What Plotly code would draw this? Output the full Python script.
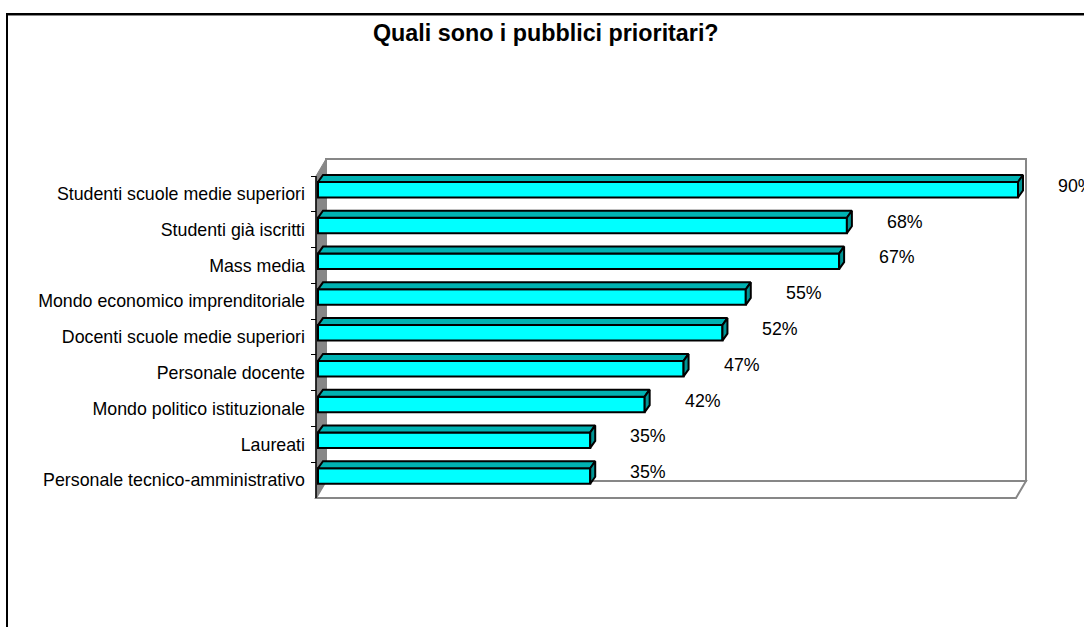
import plotly.graph_objects as go

# ---- data ----
categories = [
    "Studenti scuole medie superiori",
    "Studenti già iscritti",
    "Mass media",
    "Mondo economico imprenditoriale",
    "Docenti scuole medie superiori",
    "Personale docente",
    "Mondo politico istituzionale",
    "Laureati",
    "Personale tecnico-amministrativo",
]
values = [90, 68, 67, 55, 52, 47, 42, 35, 35]
value_labels = [f"{v}%" for v in values]
title_text = "Quali sono i pubblici prioritari?"

# ---- canvas / scale set-up ----
W, H = 1084, 627
AXIS_MAX = 90
FONT = "Arial, Liberation Sans, sans-serif"

# value axis: 0 at x=318 px, AXIS_MAX at x=1018 px (plot area = whole canvas)
X0_PX, XEND_PX = 318, 1018
KX = (XEND_PX - X0_PX) / AXIS_MAX
x_range = [-X0_PX / KX, (W - X0_PX) / KX]

# category axis: bands stacked from y=176 px to y=498 px, index 0 on top
BAND_TOP_PX, BAND_BOT_PX = 176, 498
KY = (BAND_BOT_PX - BAND_TOP_PX) / len(categories)
C0_PX = BAND_TOP_PX + KY / 2
y_range = [(H - C0_PX) / KY, -C0_PX / KY]


def px(p):
    return p / W


def py(p):
    return 1 - p / H


# 3-D bar geometry (in data units)
FACE_TOP = (182 - C0_PX) / KY   # front face top relative to band centre
FACE_H = 15.5 / KY
DEPTH_DX = 5 / KX
DEPTH_DY = 7 / KY

fig = go.Figure()

# front faces of the bars
fig.add_trace(go.Bar(
    y=categories, x=values, orientation="h",
    offset=FACE_TOP, width=FACE_H,
    marker=dict(color="#00FFFF", line=dict(color="black", width=2)),
    hoverinfo="skip", showlegend=False,
))

# top and side faces, built from the same values
top_x, top_y, side_x, side_y = [], [], [], []
for i, v in enumerate(values):
    yf = i + FACE_TOP
    yb = yf - DEPTH_DY
    top_x += [0, DEPTH_DX, v + DEPTH_DX, v, 0, None]
    top_y += [yf, yb, yb, yf, yf, None]
    side_x += [v, v + DEPTH_DX, v + DEPTH_DX, v, v, None]
    side_y += [yf, yb, yb + FACE_H, yf + FACE_H, yf, None]

fig.add_trace(go.Scatter(
    x=top_x, y=top_y, yaxis="y2", mode="lines", fill="toself",
    fillcolor="#00B2B2", line=dict(color="black", width=2),
    hoverinfo="skip", showlegend=False,
))
fig.add_trace(go.Scatter(
    x=side_x, y=side_y, yaxis="y2", mode="lines", fill="toself",
    fillcolor="#009494", line=dict(color="black", width=2),
    hoverinfo="skip", showlegend=False,
))

# value labels
for i, (v, lab) in enumerate(zip(values, value_labels)):
    fig.add_annotation(
        x=v, y=i, xref="x", yref="y2", text=lab, showarrow=False,
        xanchor="center", yanchor="middle", xshift=58, yshift=8,
        font=dict(family=FONT, size=17.8, color="black"),
    )

# title
fig.add_annotation(
    x=px(546), y=py(33), xref="paper", yref="paper", text=f"<b>{title_text}</b>",
    showarrow=False, xanchor="center", yanchor="middle",
    font=dict(family=FONT, size=23.3, color="black"),
)

GRAY = "#878787"
shapes = [
    # chart border
    dict(type="line", x0=px(7), x1=px(W + 10), y0=py(15.5), y1=py(15.5),
         line=dict(color=GRAY, width=1)),
    dict(type="rect", x0=px(7), x1=px(W + 10), y0=py(14), y1=py(H + 10),
         line=dict(color="black", width=2)),
    # back wall
    dict(type="rect", x0=px(326), x1=px(1026), y0=py(159), y1=py(481),
         line=dict(color=GRAY, width=2), fillcolor="white", layer="below"),
    # floor
    dict(type="path", path="M 316,498 L 326,481 L 1026,481 L 1016,498 Z",
         line=dict(color=GRAY, width=2), fillcolor="white", layer="below"),
    # side wall
    dict(type="path", path="M 316,176 L 326,159 L 326,481 L 316,498 Z",
         line=dict(color=GRAY, width=1), fillcolor=GRAY, layer="below"),
    # category axis line
    dict(type="line", x0=px(316), x1=px(316), y0=py(176), y1=py(498),
         line=dict(color="black", width=1.5)),
]


# paths above are written in pixels; convert them to paper coordinates
def path_to_paper(path):
    out = []
    for tok in path.split():
        if "," in tok:
            a, b = tok.split(",")
            out.append(f"{float(a) / W:.6f},{1 - float(b) / H:.6f}")
        else:
            out.append(tok)
    return " ".join(out)


for s in shapes:
    if s["type"] == "path":
        s["path"] = path_to_paper(s["path"])
    s["xref"] = "paper"
    s["yref"] = "paper"

fig.update_layout(
    width=W, height=H,
    margin=dict(l=0, r=0, t=0, b=0),
    paper_bgcolor="white", plot_bgcolor="white",
    shapes=shapes,
    xaxis=dict(range=x_range, domain=[0, 1], visible=False, fixedrange=True),
    yaxis=dict(
        type="category", categoryorder="array", categoryarray=categories,
        range=y_range, domain=[0, 1], anchor="free", position=316 / W,
        tickson="boundaries", ticks="outside", ticklen=5, tickwidth=1,
        tickcolor="black", showline=False, showgrid=False, zeroline=False,
        ticklabelstandoff=11,
        tickfont=dict(family=FONT, size=17.8, color="black"), fixedrange=True,
    ),
    yaxis2=dict(range=y_range, overlaying="y", visible=False, fixedrange=True),
    showlegend=False,
)

fig.write_html("out.html")
